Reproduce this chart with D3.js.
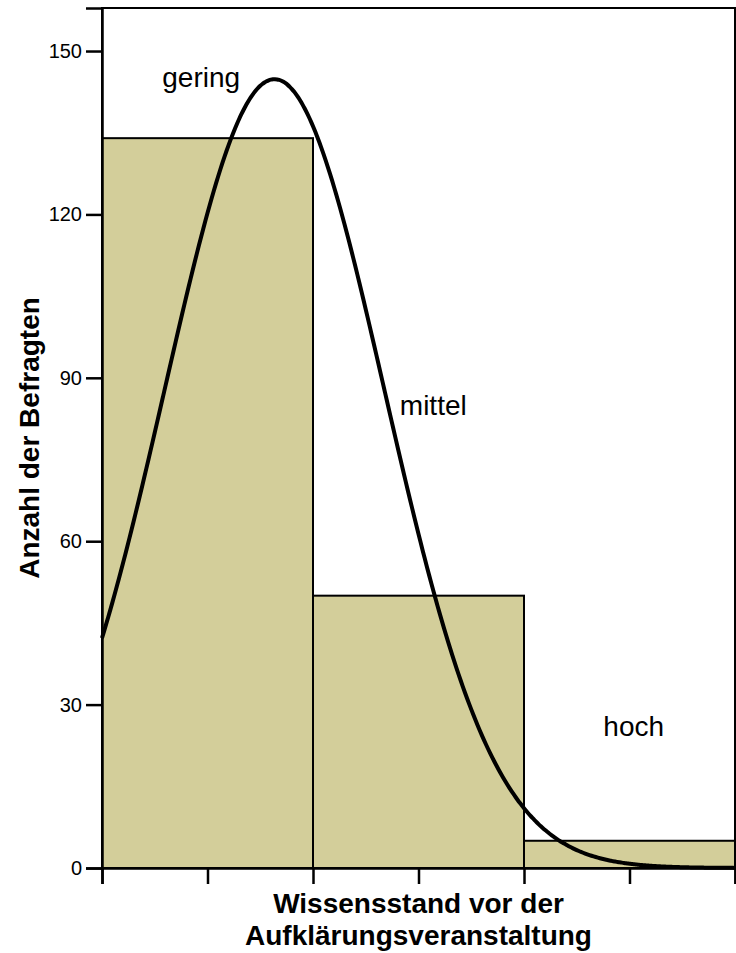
<!DOCTYPE html>
<html lang="de">
<head>
<meta charset="UTF-8">
<title>Wissensstand</title>
<script src="https://cdn.jsdelivr.net/npm/d3@7"></script>
<style>
    body { margin: 0; background: #fff; }
    text { font-family: "Liberation Sans", Arial, sans-serif; fill: #000; }
    .tick text { font-size: 20px; }
    .axis-title { font-size: 28px; font-weight: bold; }
    .cat-label { font-size: 28px; }
</style>
</head>
<body>
<script>
    // categories and counts (respondents)
    const categories = ['gering', 'mittel', 'hoch'];
    const counts = [134, 50, 5];
    const yTicks = [0, 30, 60, 90, 120, 150];

    const w = 736, h = 953;
    const margin = {left: 102, right: 1, top: 8, bottom: 85};

    const svg = d3.select('body').append('svg')
        .attr('width', w)
        .attr('height', h);

    // x scale in category units, 1..3 at bar centers
    const x = d3.scaleLinear()
        .domain([0.5, 3.5])
        .range([margin.left, w - margin.right]);
    const y = d3.scaleLinear()
        .domain([0, 157.9])
        .range([h - margin.bottom, margin.top]);

    // bars
    svg.selectAll('rect.bar')
        .data(counts)
        .enter()
        .append('rect')
        .attr('class', 'bar')
        .attr('x', (d, i) => x(i + 0.5))
        .attr('y', d => y(d))
        .attr('width', x(1.5) - x(0.5))
        .attr('height', d => y(0) - y(d))
        .attr('fill', '#d3ce9a')
        .attr('stroke', '#000')
        .attr('stroke-width', 2);

    // normal curve fitted to the counts
    const n = d3.sum(counts);
    const mean = d3.sum(counts, (d, i) => d * (i + 1)) / n;
    const sd = Math.sqrt(d3.sum(counts, (d, i) => d * Math.pow(i + 1 - mean, 2)) / (n - 1));
    const normal = v => n / (sd * Math.sqrt(2 * Math.PI)) * Math.exp(-0.5 * Math.pow((v - mean) / sd, 2));
    const curveX = d3.range(0.5, 3.5001, 0.01);
    svg.append('path')
        .datum(curveX)
        .attr('d', d3.line().x(d => x(d)).y(d => y(normal(d))).curve(d3.curveBasis))
        .attr('fill', 'none')
        .attr('stroke', '#000')
        .attr('stroke-width', 4);

    // frame
    svg.append('path')
        .attr('d', `M${x(0.5)},${y(0)}V${margin.top}H${x(3.5)}V${y(0)}`)
        .attr('fill', 'none')
        .attr('stroke', '#000')
        .attr('stroke-width', 2);

    // category labels
    const labelPos = [[0.97, 143.4], [2.07, 83.2], [3.02, 24.2]];
    svg.selectAll('text.cat-label')
        .data(categories)
        .enter()
        .append('text')
        .attr('class', 'cat-label')
        .attr('x', (d, i) => x(labelPos[i][0]))
        .attr('y', (d, i) => y(labelPos[i][1]))
        .attr('text-anchor', 'middle')
        .text(d => d);

    // axes
    const yAxis = d3.axisLeft(y).tickValues(yTicks).tickSize(16).tickPadding(4);
    svg.append('g')
        .attr('transform', `translate(${margin.left},0)`)
        .call(yAxis)
        .call(g => g.select('.domain').attr('stroke-width', 2.5))
        .call(g => g.selectAll('.tick line').attr('stroke-width', 2.5));

    const xAxis = d3.axisBottom(x).tickValues(d3.range(0.5, 3.51, 0.5)).tickSize(16).tickFormat('');
    svg.append('g')
        .attr('transform', `translate(0,${y(0)})`)
        .call(xAxis)
        .call(g => g.select('.domain').attr('stroke-width', 2.5))
        .call(g => g.selectAll('.tick line').attr('stroke-width', 2.5));

    // axis titles
    svg.append('text')
        .attr('class', 'axis-title')
        .attr('transform', `translate(39,${(margin.top + y(0)) / 2}) rotate(-90)`)
        .attr('text-anchor', 'middle')
        .text('Anzahl der Befragten');

    const cx = (x(0.5) + x(3.5)) / 2;
    const xt = svg.append('text')
        .attr('class', 'axis-title')
        .attr('text-anchor', 'middle')
        .attr('x', cx)
        .attr('y', 913);
    xt.append('tspan').attr('x', cx).text('Wissensstand vor der');
    xt.append('tspan').attr('x', cx).attr('dy', 32).text('Aufklärungsveranstaltung');
</script>
</body>
</html>
